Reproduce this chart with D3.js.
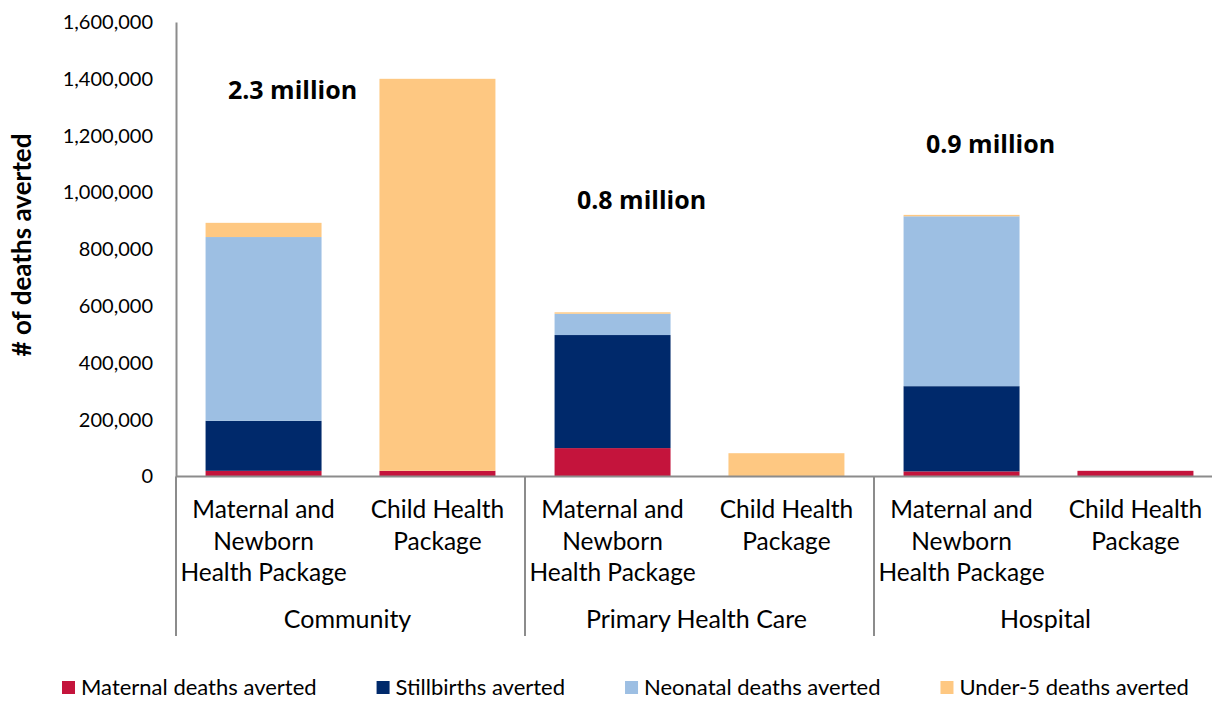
<!DOCTYPE html>
<html>
<head>
<meta charset="utf-8">
<script src="https://cdn.jsdelivr.net/npm/d3@7"></script>
<style>
  html, body { margin: 0; padding: 0; background: #fff; }
  svg { display: block; font-family: "Lato", "Open Sans", sans-serif; }
</style>
</head>
<body>
<svg id="chart" width="1212" height="702"></svg>
<script>
// Delivery platforms and the two intervention packages within each
const platforms = ["Community", "Primary Health Care", "Hospital"];
const packages = ["MNH", "CH"];
const packageLabels = [["Maternal and", "Newborn", "Health Package"], ["Child Health", "Package"]];

// Deaths averted, one value per platform × package (Community MNH, Community CH, PHC MNH, PHC CH, Hospital MNH, Hospital CH)
const maternal    = [20000,   20000,   100000, 0,     18000,  20000];
const stillbirths = [176000,  0,       398000, 0,     300000, 0];
const neonatal    = [647000,  0,       75000,  0,     598000, 0];
const under5      = [50000,   1380000, 5000,   82000, 5000,   0];

// Total per platform, printed above each group
const totalLabels = ["2.3 million", "0.8 million", "0.9 million"];

// Y axis ticks
const yTicks = [0, 200000, 400000, 600000, 800000, 1000000, 1200000, 1400000, 1600000];

const seriesKeys = ["maternal", "stillbirths", "neonatal", "under5"];
const seriesNames = ["Maternal deaths averted", "Stillbirths averted", "Neonatal deaths averted", "Under-5 deaths averted"];
const colors = ["#C4143C", "#00296B", "#9DBFE3", "#FEC882"];
const seriesValues = [maternal, stillbirths, neonatal, under5];

// Build one row per bar
const rows = [];
platforms.forEach((p, gi) => {
  packages.forEach((k, pi) => {
    const i = gi * packages.length + pi;
    const row = { platform: p, pkg: k };
    seriesKeys.forEach((s, si) => { row[s] = seriesValues[si][i]; });
    rows.push(row);
  });
});

const svg = d3.select("#chart");
const axisColor = "#8c8c8c";

const y = d3.scaleLinear().domain([0, 1600000]).range([476.5, 22]);
const groupX = d3.scaleBand().domain(platforms).range([176, 1223]);
const innerX = d3.scaleBand().domain(packages).range([0, groupX.bandwidth()])
  .paddingInner(0.333).paddingOuter(0.17);

// Stacked bars
const stacked = d3.stack().keys(seriesKeys)(rows);
svg.append("g").selectAll("g")
  .data(stacked)
  .join("g")
  .attr("fill", (d, i) => colors[i])
  .selectAll("rect")
  .data(d => d)
  .join("rect")
  .attr("x", d => groupX(d.data.platform) + innerX(d.data.pkg))
  .attr("width", innerX.bandwidth())
  .attr("y", d => y(d[1]))
  .attr("height", d => Math.max(0, y(d[0]) - y(d[1])));

// Y axis
const yAxis = d3.axisLeft(y)
  .tickValues(yTicks)
  .tickFormat(d3.format(","))
  .tickSize(0)
  .tickPadding(23);
const gy = svg.append("g").attr("transform", "translate(176,0)").call(yAxis);
gy.select(".domain").attr("stroke", axisColor).attr("stroke-width", 2);
gy.selectAll("text").attr("font-size", 20).attr("fill", "#000")
  .attr("font-family", "Lato, sans-serif");

// Baseline
svg.append("line")
  .attr("x1", 176).attr("x2", 1212)
  .attr("y1", y(0)).attr("y2", y(0))
  .attr("stroke", axisColor).attr("stroke-width", 2);

// Group separators
svg.append("g").selectAll("line")
  .data(platforms)
  .join("line")
  .attr("x1", d => groupX(d)).attr("x2", d => groupX(d))
  .attr("y1", y(0)).attr("y2", 636)
  .attr("stroke", axisColor).attr("stroke-width", 2);

// Package labels
const pkgG = svg.append("g").attr("font-size", 24.5).attr("fill", "#000").attr("text-anchor", "middle");
platforms.forEach(p => {
  packages.forEach((k, pi) => {
    const cx = groupX(p) + innerX(k) + innerX.bandwidth() / 2;
    const t = pkgG.append("text").attr("x", cx).attr("y", 518);
    packageLabels[pi].forEach((line, li) => {
      t.append("tspan").attr("x", cx).attr("y", 518 + li * 31.5).text(line);
    });
  });
});

// Platform labels
svg.append("g").selectAll("text")
  .data(platforms)
  .join("text")
  .attr("x", d => groupX(d) + groupX.bandwidth() / 2 - 3)
  .attr("y", 628)
  .attr("text-anchor", "middle")
  .attr("font-size", 25)
  .attr("fill", "#000")
  .text(d => d);

// Platform totals
svg.append("g").selectAll("text")
  .data(platforms)
  .join("text")
  .attr("x", d => groupX(d) + groupX.bandwidth() / 2 - 58)
  .attr("y", (d, i) => [99, 209, 153][i])
  .attr("text-anchor", "middle")
  .attr("font-family", "'Open Sans', sans-serif")
  .attr("font-size", 25)
  .attr("font-weight", 700)
  .attr("fill", "#000")
  .text((d, i) => totalLabels[i]);

// Y axis title
svg.append("text")
  .attr("transform", "translate(31,245) rotate(-90)")
  .attr("text-anchor", "middle")
  .attr("font-size", 26)
  .attr("font-weight", 700)
  .attr("fill", "#000")
  .text("# of deaths averted");

// Legend
const legend = svg.append("g").attr("transform", "translate(62,0)");
let lx = 0;
seriesNames.forEach((name, i) => {
  const item = legend.append("g").attr("transform", `translate(${lx},0)`);
  item.append("rect").attr("x", 0).attr("y", 681).attr("width", 13).attr("height", 13).attr("fill", colors[i]);
  const t = item.append("text").attr("x", 19).attr("y", 695)
    .attr("font-size", 22).attr("fill", "#000").text(name);
  lx += 19 + t.node().getComputedTextLength() + 60;
});
</script>
</body>
</html>
